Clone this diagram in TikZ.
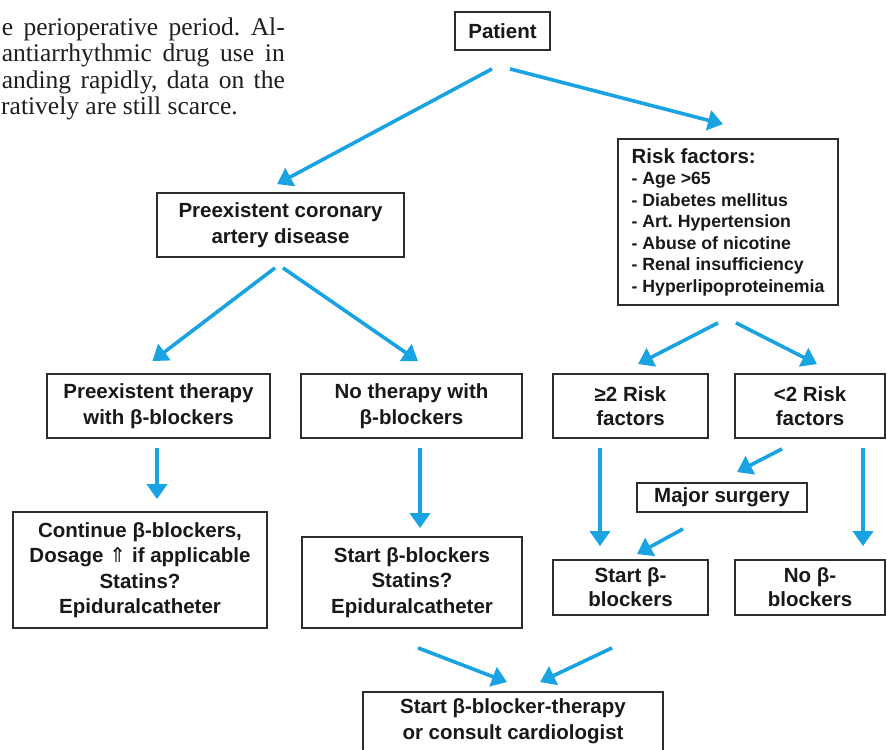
\documentclass[tikz,border=0pt]{standalone}
\usepackage{fontspec}
\setmainfont{Liberation Sans}
\newfontfamily\serifpara{Liberation Serif}
\newfontfamily\dejavu{DejaVu Sans}
\usetikzlibrary{arrows.meta}
\definecolor{arrblue}{RGB}{26,163,226}
\definecolor{boxline}{RGB}{45,45,45}
\definecolor{txtcol}{RGB}{25,25,25}
\frenchspacing
\begin{document}
\begin{tikzpicture}[x=1pt,y=-1pt,
  box/.style={draw=boxline, line width=1.8pt, fill=white, inner sep=0pt, align=center, text=txtcol,
    font=\fontsize{20.5}{25.5}\selectfont\bfseries},
  boxtext/.style={inner sep=0pt, align=center, text=txtcol, font=\fontsize{20.5}{25.5}\selectfont\bfseries},
  arr/.style={draw=arrblue, line width=3.6pt, -{Triangle[width=20pt,length=15pt]}},
  para/.style={inner sep=0pt, text=black!88, font=\serifpara\fontsize{25.5}{26.5}\selectfont},
]
\useasboundingbox (0,0) rectangle (887,750);
\fill[white] (0,0) rectangle (887,750);
\clip (0,0) rectangle (887,750);

% paragraph fragment
\node[para, anchor=base east] (p1) at (285,35) {\makebox[283pt][s]{e perioperative period. Al-}};
\node[para, anchor=base east] (p2) at (285,61.5) {\makebox[283pt][s]{antiarrhythmic drug use in}};
\node[para, anchor=base east] (p3) at (285,88) {\makebox[283pt][s]{anding rapidly, data on the}};
\node[para, anchor=base west] (p4) at (1,114.5) {ratively are still scarce.};

% boxes
\node[box, minimum width=95pt, minimum height=38pt] (patient) at (502.5,31) {Patient};
\node[box, minimum width=247pt, minimum height=64pt] (cad) at (280.5,225) {Preexistent coronary\\artery disease};
\node[box, minimum width=220pt, minimum height=166pt, align=left,
      font=\fontsize{17.7}{21.5}\selectfont\bfseries] (rf) at (728,222)
  {{\fontsize{20.5}{21.5}\selectfont Risk factors:}\\
   - Age >65\\
   - Diabetes mellitus\\
   - Art. Hypertension\\
   - Abuse of nicotine\\
   - Renal insufficiency\\
   - Hyperlipoproteinemia};
\node[box, minimum width=223pt, minimum height=64pt] (pre) at (158.5,406) {Preexistent therapy\\with β-blockers};
\node[box, minimum width=221pt, minimum height=64pt] (nother) at (411.5,406) {No therapy with\\β-blockers};
\node[box, minimum width=155pt, minimum height=64pt, font=\fontsize{20.5}{24}\selectfont\bfseries] (ge2) at (630.5,406) {≥2 Risk\\factors};
\node[box, minimum width=150pt, minimum height=64pt, font=\fontsize{20.5}{24}\selectfont\bfseries] (lt2) at (810,406) {<2 Risk\\factors};
\node[box, minimum width=170pt, minimum height=29pt] (major) at (722,497.5) {Major surgery};
\node[box, minimum width=254pt, minimum height=116pt] (cont) at (140,570)
  {Continue β-blockers,\\Dosage {\dejavu\mdseries ⇑} if applicable\\Statins?\\Epiduralcatheter};
\node[box, minimum width=220pt, minimum height=91pt] (startss) at (412,582.5)
  {Start β-blockers\\Statins?\\Epiduralcatheter};
\node[box, minimum width=155pt, minimum height=55pt, font=\fontsize{20.5}{24}\selectfont\bfseries] (startb) at (630.5,587.5) {Start β-\\blockers};
\node[box, minimum width=150pt, minimum height=55pt, font=\fontsize{20.5}{24}\selectfont\bfseries] (nob) at (810,587.5) {No β-\\blockers};
\node[box, minimum width=300pt, minimum height=80pt] (final) at (513,732) {};
\node[boxtext] (finaltxt) at (513,721) {Start β-blocker-therapy\\or consult cardiologist};

% connectors
\draw[arr] ([xshift=-10.5pt,yshift=-18pt]patient.south) -- ([xshift=-3.5pt,yshift=8pt]cad.north);
\draw[arr] ([xshift=7.5pt,yshift=-18pt]patient.south) -- ([xshift=-5pt,yshift=14pt]rf.north);
\draw[arr] ([xshift=-5.5pt,yshift=-10pt]cad.south) -- ([xshift=-6pt,yshift=12pt]pre.north);
\draw[arr] ([xshift=2.5pt,yshift=-10pt]cad.south) -- ([xshift=6.5pt,yshift=12pt]nother.north);
\draw[arr] ([xshift=-10pt,yshift=-17pt]rf.south) -- ([xshift=7.5pt,yshift=9pt]ge2.north);
\draw[arr] ([xshift=8pt,yshift=-17pt]rf.south) -- ([xshift=7pt,yshift=9pt]lt2.north);
\draw[arr] ([xshift=-1.5pt,yshift=-9pt]pre.south) -- ([xshift=17pt,yshift=12pt]cont.north);
\draw[arr] ([xshift=8.5pt,yshift=-9pt]nother.south) -- ([xshift=8pt,yshift=8pt]startss.north);
\draw[arr] ([xshift=-30.5pt,yshift=-9pt]ge2.south) -- ([xshift=-30.5pt,yshift=13pt]startb.north);
\draw[arr] ([xshift=53pt,yshift=-9pt]lt2.south) -- ([xshift=53pt,yshift=13pt]nob.north);
\draw[arr] ([xshift=-28pt,yshift=-10pt]lt2.south) -- ([xshift=15pt,yshift=10pt]major.north);
\draw[arr] ([xshift=-39pt,yshift=-16pt]major.south) -- ([xshift=6.5pt,yshift=5pt]startb.north);
\draw[arr] ([xshift=6pt,yshift=-19pt]startss.south) -- ([xshift=-6pt,yshift=9pt]final.north);
\draw[arr] ([xshift=-18.5pt,yshift=-32pt]startb.south) -- ([xshift=27pt,yshift=9pt]final.north);
\end{tikzpicture}
\end{document}
